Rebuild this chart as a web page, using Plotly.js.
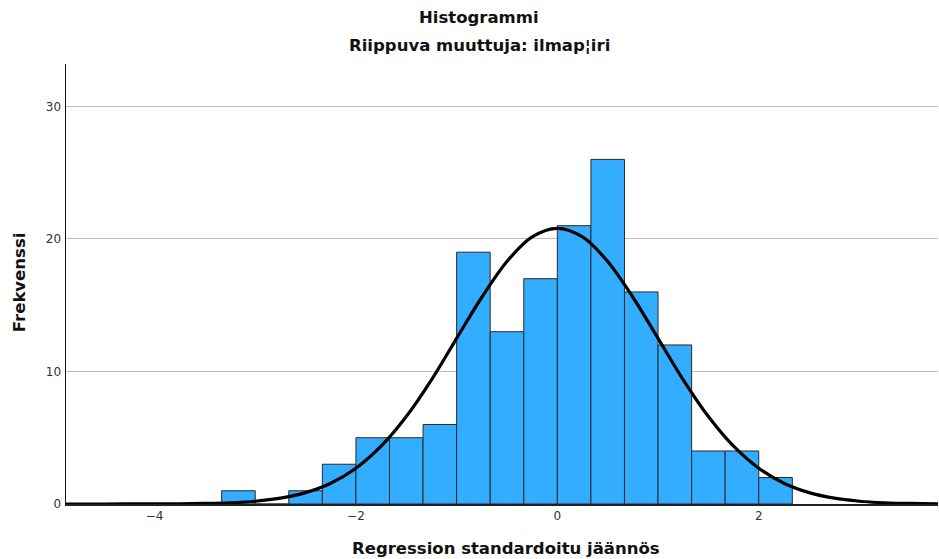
<!DOCTYPE html>
<html>
<head>
<meta charset="utf-8">
<script src="https://cdn.plot.ly/plotly-3.0.1.min.js"></script>
<style>html,body{margin:0;padding:0;background:#fff;}#chart{width:939px;height:559px;}</style>
</head>
<body>
<div id="chart"></div>
<script>
// Histogram bins (centres, width 1/3) and frequencies
const binCenters = [-3.1667, -2.8333, -2.5, -2.1667, -1.8333, -1.5, -1.1667, -0.8333, -0.5, -0.1667, 0.1667, 0.5, 0.8333, 1.1667, 1.5, 1.8333, 2.1667];
const binCounts  = [1, 0, 1, 3, 5, 5, 6, 19, 13, 17, 21, 26, 16, 12, 4, 4, 2];
const binWidth = 1/3;

// Normal curve points
const curveX = [-4.88, -4.5, -4, -3.75, -3.5, -3.25, -3, -2.75, -2.5, -2.25, -2, -1.75, -1.5, -1.25, -1, -0.75, -0.5, -0.25, 0, 0.25, 0.5, 0.75, 1, 1.25, 1.5, 1.75, 2, 2.25, 2.5, 2.75, 3, 3.25, 3.5, 3.78];
const curveY = [0, 0.001, 0.006, 0.016, 0.04, 0.095, 0.21, 0.44, 0.86, 1.57, 2.7, 4.36, 6.6, 9.37, 12.5, 15.6, 18.3, 20.15, 20.8, 20.15, 18.3, 15.6, 12.5, 9.37, 6.6, 4.36, 2.7, 1.57, 0.86, 0.44, 0.21, 0.095, 0.04, 0.014];

const xTicks = [-4, -2, 0, 2];
const yTicks = [0, 10, 20, 30];

const titleText = 'Histogrammi';
const subtitleText = 'Riippuva muuttuja: ilmap¦iri';
const xTitle = 'Regression standardoitu jäännös';
const yTitle = 'Frekvenssi';

const font = 'DejaVu Sans, Arial, sans-serif';

const traces = [
  {
    type: 'bar',
    x: binCenters,
    y: binCounts,
    width: binCenters.map(() => binWidth),
    marker: {color: '#33adff', line: {color: '#2a2a2a', width: 1}},
    hoverinfo: 'x+y'
  },
  {
    type: 'scatter',
    mode: 'lines',
    x: curveX,
    y: curveY,
    line: {color: '#000', width: 3.2, shape: 'spline', smoothing: 1},
    hoverinfo: 'skip'
  }
];

const layout = {
  width: 939,
  height: 559,
  margin: {l: 66, r: 1, t: 64, b: 55},
  paper_bgcolor: '#fff',
  plot_bgcolor: '#fff',
  showlegend: false,
  bargap: 0,
  font: {family: font, color: '#222', size: 12},
  xaxis: {
    range: [-4.879, 3.78],
    tickvals: xTicks,
    ticktext: xTicks.map(v => v < 0 ? '\u2212' + Math.abs(v) : String(v)),
    showgrid: false,
    zeroline: false,
    showline: true,
    linecolor: '#222',
    linewidth: 2,
    ticks: '',
    tickfont: {size: 12, color: '#333', family: font}
  },
  yaxis: {
    range: [0, 33.2],
    tickvals: yTicks,
    showgrid: true,
    gridcolor: '#bdbdbd',
    gridwidth: 1,
    zeroline: false,
    showline: true,
    linecolor: '#111',
    linewidth: 1.5,
    ticks: '',
    ticklabelstandoff: 1,
    tickfont: {size: 12, color: '#333', family: font}
  },
  annotations: [
    {text: '<b>' + titleText + '</b>', xref: 'paper', yref: 'paper', x: 0.474, y: 1.105, xanchor: 'center', yanchor: 'middle', showarrow: false, font: {size: 16.5, color: '#111', family: font}},
    {text: '<b>' + subtitleText + '</b>', xref: 'paper', yref: 'paper', x: 0.474, y: 1.041, xanchor: 'center', yanchor: 'middle', showarrow: false, font: {size: 16.5, color: '#111', family: font}},
    {text: '<b>' + xTitle + '</b>', xref: 'paper', yref: 'paper', x: 0.505, y: -0.102, xanchor: 'center', yanchor: 'middle', showarrow: false, font: {size: 16.5, color: '#111', family: font}},
    {text: '<b>' + yTitle + '</b>', xref: 'paper', yref: 'paper', x: -0.054, y: 0.504, xanchor: 'center', yanchor: 'middle', textangle: -90, showarrow: false, font: {size: 16.5, color: '#111', family: font}}
  ]
};

Plotly.newPlot('chart', traces, layout, {displayModeBar: false, staticPlot: true});
</script>
</body>
</html>
